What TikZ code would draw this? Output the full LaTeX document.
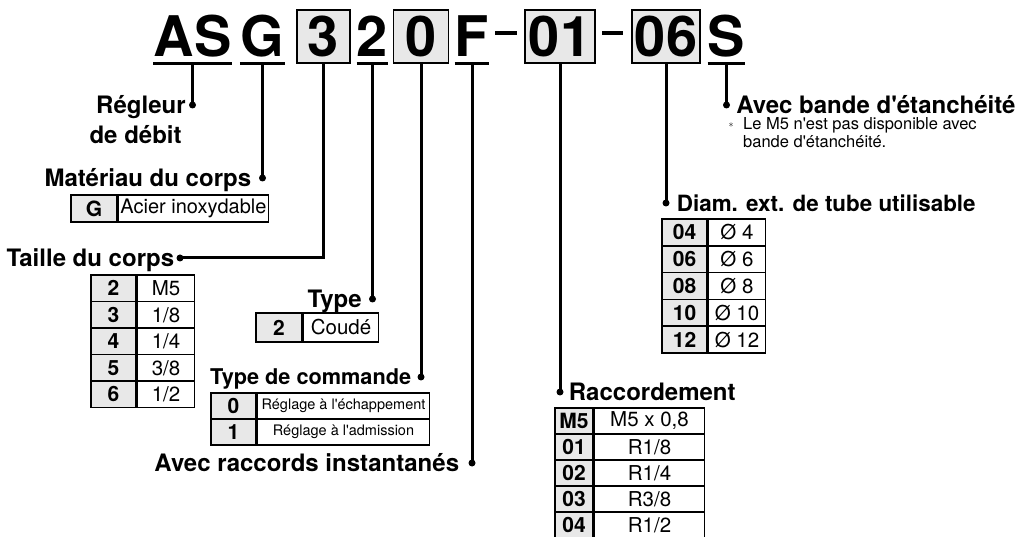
\documentclass[tikz,border=0pt]{standalone}
\usepackage{fontspec}
\setmainfont{TeX Gyre Heros}
\usetikzlibrary{positioning}

\tikzset{
  titlechar/.style={font=\bfseries\fontsize{56}{60}\selectfont, inner sep=0pt, minimum height=53pt},
  titlebox/.style={titlechar, draw, line width=1.5pt, fill=gray!18},
  uline/.style={line width=3pt},
  conn/.style={line width=3pt},
  dot/.style={circle, fill, inner sep=0pt, minimum size=7pt},
  lab/.style={font=\bfseries\fontsize{24}{28}\selectfont, inner sep=0pt, text height=17pt, text depth=0pt},
  keycell/.style={draw, line width=1.5pt, fill=gray!18, inner sep=0pt, font=\bfseries\fontsize{21}{23}\selectfont},
  valcell/.style={draw, line width=1.5pt, inner sep=0pt, font=\fontsize{20.5}{22}\selectfont},
  note/.style={inner sep=0pt, font=\fontsize{16.5}{18}\selectfont},
}

\begin{document}
\begin{tikzpicture}[x=1pt, y=-1pt]
\useasboundingbox (0,0) rectangle (1018,537);

% reference code
\node[titlechar, minimum width=75] (tAS) at (192.5,36.5) {AS};
\node[titlechar, minimum width=45] (tG) at (262.5,36.5) {G};
\node[titlebox, minimum width=53] (t3) at (323.5,36.5) {3};
\node[titlechar, minimum width=31] (t2) at (372.5,36.5) {2};
\node[titlebox, minimum width=55] (t0) at (421,36.5) {0};
\node[titlechar, minimum width=29] (tF) at (472,36.5) {F};
\node[titlebox, minimum width=70] (t01) at (560,36.5) {01};
\node[titlebox, minimum width=68] (t06) at (666,36.5) {06};
\node[titlechar, minimum width=37] (tS) at (726.5,36.5) {S};
\foreach \t in {tAS,tG,t2,tF,tS}
  \draw[uline] (\t.south west) -- (\t.south east);
\draw[line width=4pt] (495,33) -- (517,33);
\draw[line width=4pt] (602,33) -- (623,33);

% dots
\node[dot] (dReg) at (tAS.south |- 0,105) {};
\node[dot] (dMat) at (tG.south |- 0,178) {};
\node[dot] (dTaille) at (180,258) {};
\node[dot] (dType) at (t2.south |- 0,299) {};
\node[dot] (dCmd) at (t0.south |- 0,377) {};
\node[dot] (dRapide) at (tF.south |- 0,463) {};
\node[dot] (dRacc) at (t01.south |- 0,392) {};
\node[dot] (dDiam) at (t06.south |- 0,203) {};
\node[dot] (dBande) at (tS.south |- 0,105) {};

\draw[conn] (tAS.south) -- (dReg.center);
\draw[conn] (tG.south) -- (dMat.center);
\draw[conn] (t3.south) |- (dTaille.center);
\draw[conn] (t2.south) -- (dType.center);
\draw[conn] (t0.south) -- (dCmd.center);
\draw[conn] (tF.south) -- (dRapide.center);
\draw[conn] (t01.south) -- (dRacc.center);
\draw[conn] (t06.south) -- (dDiam.center);
\draw[conn] (tS.south) -- (dBande.center);

% labels
\node[lab, left=3pt of dReg] (lReg) {Régleur};
\node[lab, below=13pt of lReg.south east, anchor=north east, xshift=-4pt] (lReg2) {de débit};
\node[lab, left=7.5pt of dMat] (lMat) {Matériau du corps};
\node[lab, left=2pt of dTaille] (lTaille) {Taille du corps};
\node[lab, left=7pt of dType] (lType) {Type};
\node[lab, font=\bfseries\fontsize{21.7}{26}\selectfont, text height=15.6pt, left=6pt of dCmd] (lCmd) {Type de commande};
\node[lab, left=9pt of dRapide] (lRapide) {Avec raccords instantanés};
\node[lab, right=5pt of dRacc] (lRacc) {Raccordement};
\node[lab, font=\bfseries\fontsize{22.4}{26}\selectfont, text height=16.1pt, right=7pt of dDiam] (lDiam) {Diam. ext. de tube utilisable};
\node[lab, right=6pt of dBande] (lBande) {Avec bande d\textquotesingle étanchéité};

\node[inner sep=0pt] (nStar) at (731,125) {$\ast$};
\node[note, anchor=base west] (nNote1) at (743,130) {Le M5 n\textquotesingle est pas disponible avec};
\node[note, anchor=base west] (nNote2) at (743,148) {bande d\textquotesingle étanchéité.};

% tables
\node[keycell, minimum width=46, minimum height=27] (mat-k1) at (94,208.5) {G};
\node[valcell, font=\fontsize{20}{22}\selectfont, minimum width=150, minimum height=27, right=0pt of mat-k1] (mat-v1) {Acier inoxydable};

\foreach \k/\v [count=\i] in {2/M5, 3/{1/8}, 4/{1/4}, 5/{3/8}, 6/{1/2}} {
  \node[keycell, minimum width=45, minimum height=26.5] (taille-k\i) at (113.5,{275+(\i-0.5)*26.5}) {\k};
  \node[valcell, minimum width=57, minimum height=26.5, right=0pt of taille-k\i] (taille-v\i) {\v};
}

\node[keycell, minimum width=46, minimum height=29] (type-k1) at (279,327.5) {2};
\node[valcell, minimum width=75, minimum height=29, right=0pt of type-k1] (type-v1) {Coudé};

\foreach \k/\v [count=\i] in {0/{Réglage à l\textquotesingle échappement}, 1/{Réglage à l\textquotesingle admission}} {
  \node[keycell, minimum width=45, minimum height=26] (cmd-k\i) at (233.5,{393+(\i-0.5)*26}) {\k};
  \node[valcell, font=\fontsize{14.5}{16}\selectfont, minimum width=172, minimum height=26, right=0pt of cmd-k\i] (cmd-v\i) {\v};
}

\foreach \k/\v [count=\i] in {M5/{M5 x 0,8}, 01/{R1/8}, 02/{R1/4}, 03/{R3/8}, 04/{R1/2}} {
  \node[keycell, minimum width=38, minimum height=26] (racc-k\i) at (574,{408+(\i-0.5)*26}) {\k};
  \node[valcell, minimum width=110, minimum height=26, right=0pt of racc-k\i] (racc-v\i) {\v};
}

\foreach \k/\v [count=\i] in {04/4, 06/6, 08/8, 10/10, 12/12} {
  \node[keycell, minimum width=45, minimum height=26.8] (diam-k\i) at (684.5,{219+(\i-0.5)*26.8}) {\k};
  \node[valcell, minimum width=57, minimum height=26.8, right=0pt of diam-k\i] (diam-v\i) {Ø \v};
}
\end{tikzpicture}
\end{document}
